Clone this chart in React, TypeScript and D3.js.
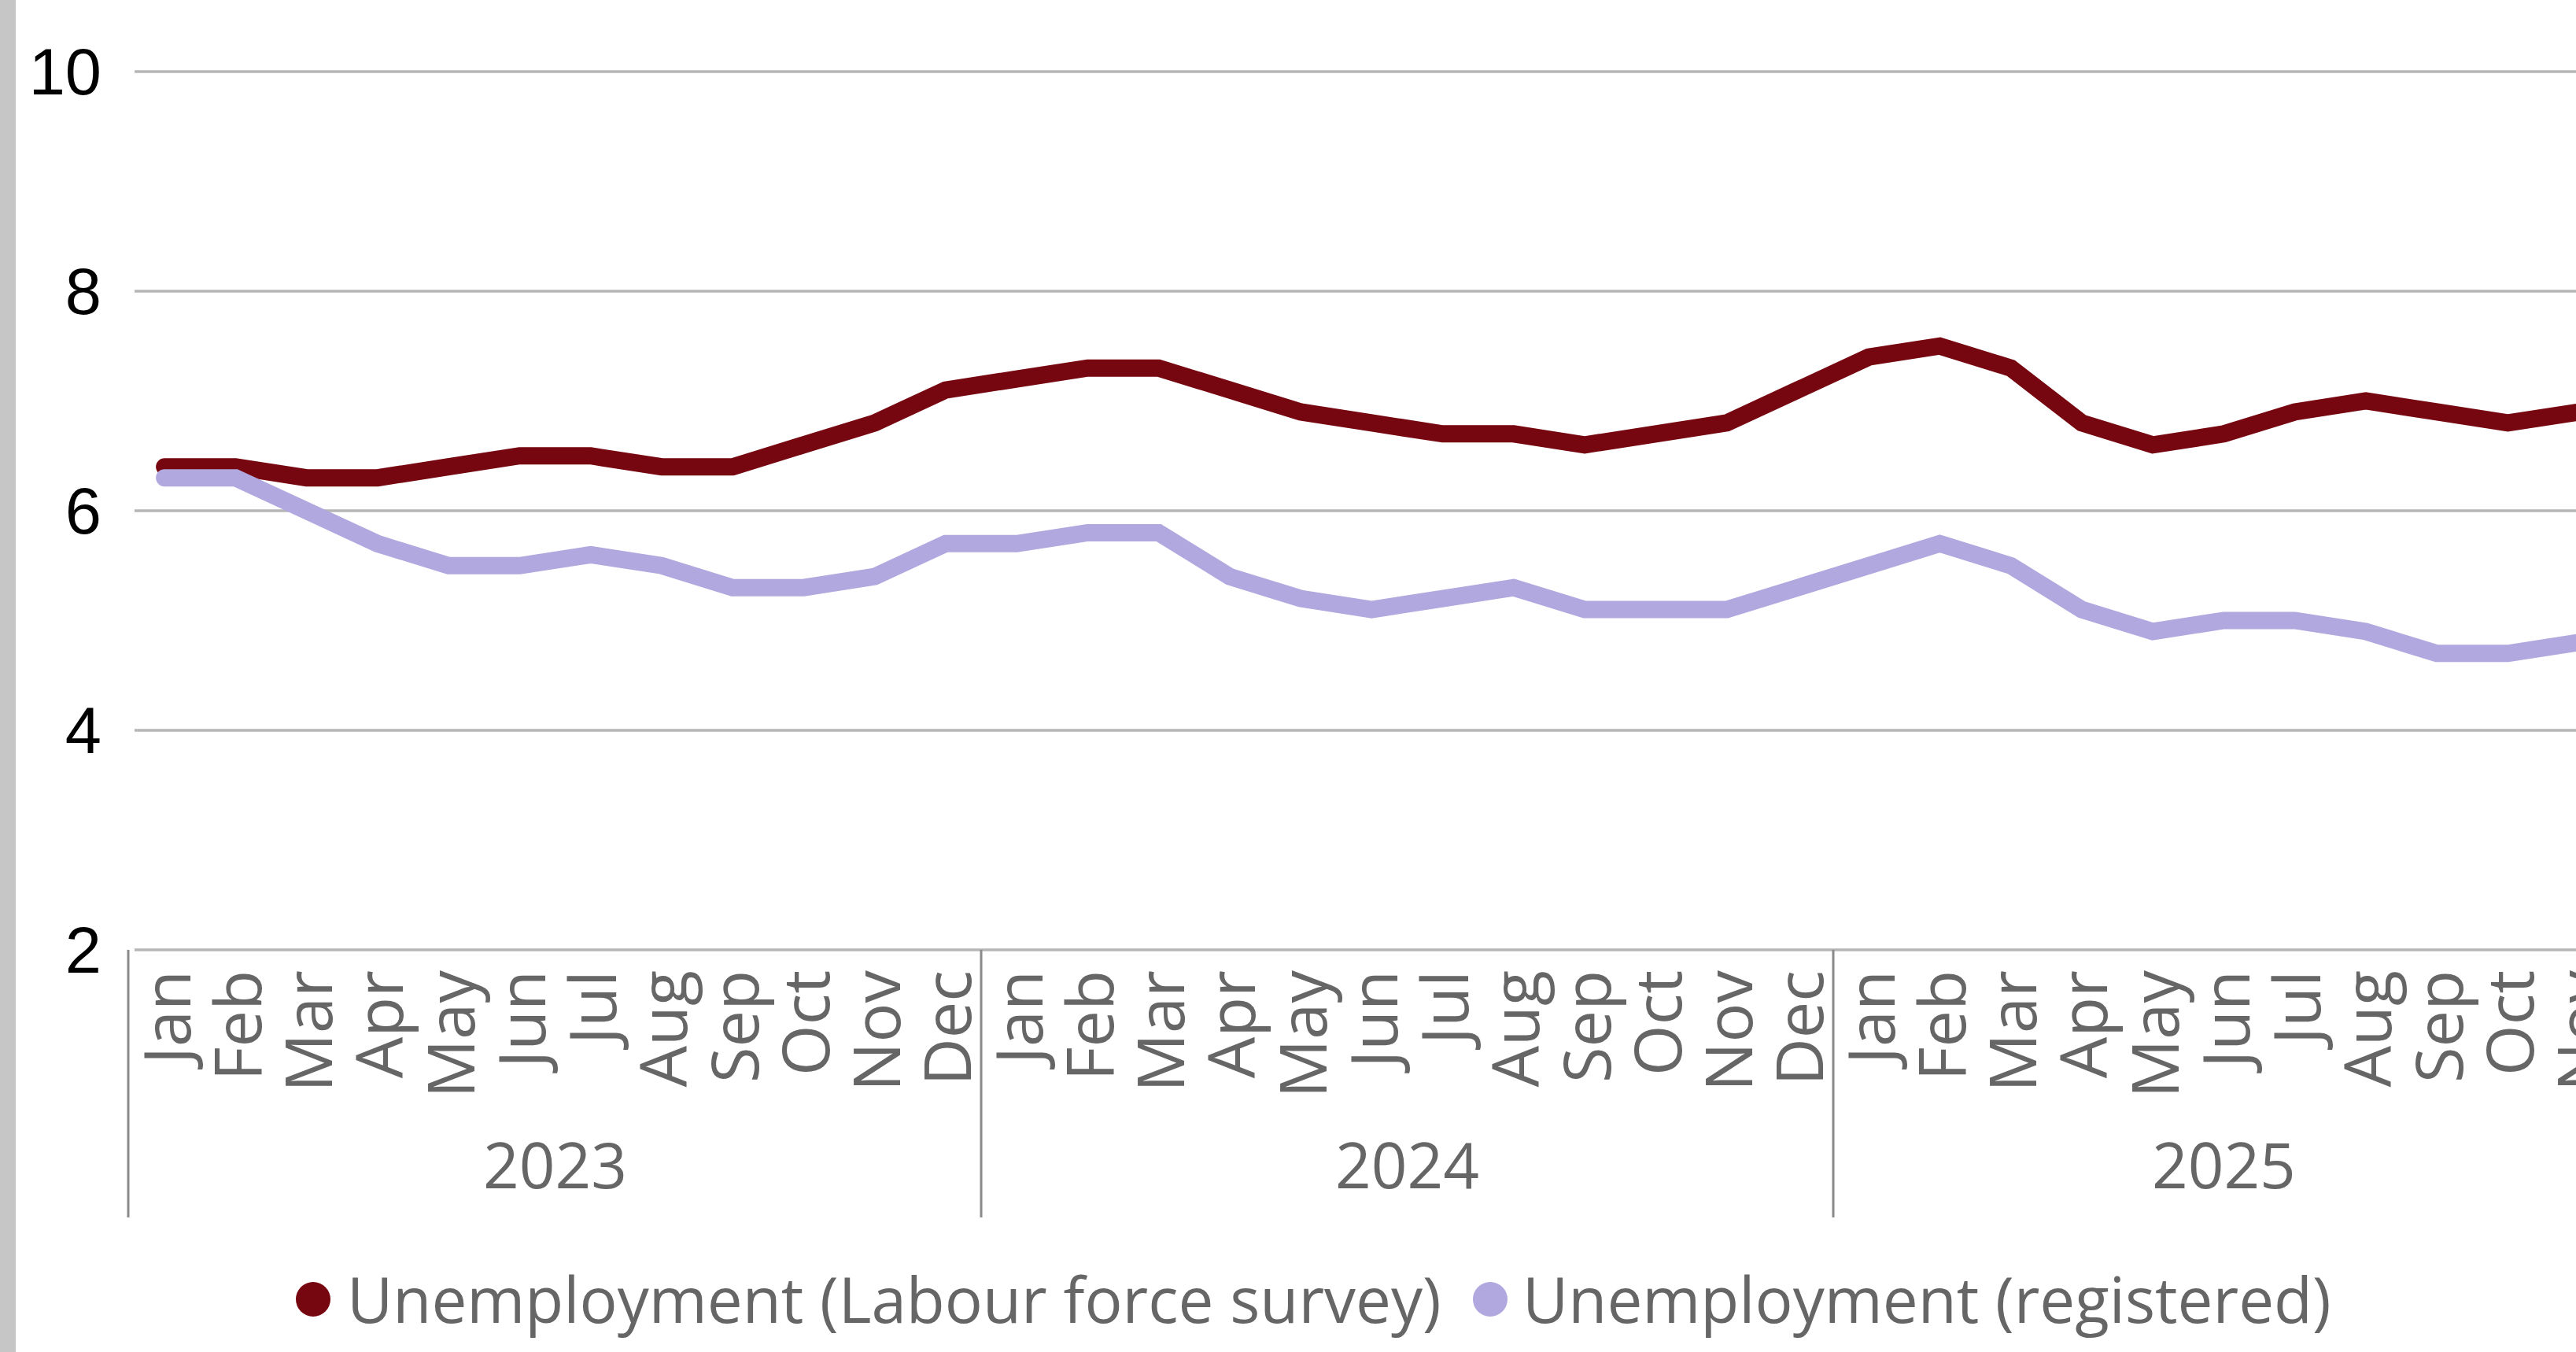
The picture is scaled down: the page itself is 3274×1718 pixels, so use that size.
import React from "react";
import * as d3 from "d3";

const monthNames = ["Jan", "Feb", "Mar", "Apr", "May", "Jun", "Jul", "Aug", "Sep", "Oct", "Nov", "Dec"];
const yearLabels = ["2023", "2024", "2025"];
const monthsPerYear = [12, 12, 11];

const lfsSeries = [
  6.4, 6.4, 6.3, 6.3, 6.4, 6.5, 6.5, 6.4, 6.4, 6.6, 6.8, 7.1,
  7.2, 7.3, 7.3, 7.1, 6.9, 6.8, 6.7, 6.7, 6.6, 6.7, 6.8, 7.1,
  7.4, 7.5, 7.3, 6.8, 6.6, 6.7, 6.9, 7.0, 6.9, 6.8, 6.9,
];
const registeredSeries = [
  6.3, 6.3, 6.0, 5.7, 5.5, 5.5, 5.6, 5.5, 5.3, 5.3, 5.4, 5.7,
  5.7, 5.8, 5.8, 5.4, 5.2, 5.1, 5.2, 5.3, 5.1, 5.1, 5.1, 5.3,
  5.5, 5.7, 5.5, 5.1, 4.9, 5.0, 5.0, 4.9, 4.7, 4.7, 4.8,
];
const yTicks = [2, 4, 6, 8, 10];
const seriesNames = ["Unemployment (Labour force survey)", "Unemployment (registered)"];
const seriesColors = ["#76060F", "#B0A8DF"];

const W = 3274;
const H = 1718;

type Cat = { key: string; month: string; year: string; yi: number };
const categories: Cat[] = [];
yearLabels.forEach((yr, yi) => {
  for (let m = 0; m < monthsPerYear[yi]; m++) {
    categories.push({ key: `${yr}-${m}`, month: monthNames[m], year: yr, yi });
  }
});

export default function App() {
  const plotLeft = 164;
  const step = 90.25;
  const x = d3
    .scaleBand<string>()
    .domain(categories.map((c) => c.key))
    .range([plotLeft, plotLeft + categories.length * step])
    .paddingInner(0)
    .paddingOuter(0);
  const y = d3.scaleLinear().domain([2, 10]).range([1207, 91]);
  const bw = x.bandwidth();
  const cx = (k: string) => (x(k) as number) + bw / 2;

  const line = d3
    .line<number>()
    .x((_, i) => cx(categories[i].key))
    .y((v) => y(v));

  const groups = yearLabels.map((yr, yi) => {
    const cats = categories.filter((c) => c.yi === yi);
    const start = x(cats[0].key) as number;
    const end = (x(cats[cats.length - 1].key) as number) + bw;
    return { yr, start, end };
  });
  const boundaries = [groups[0].start - 1, ...groups.map((g) => g.end)];

  const sans = "'Open Sans', 'Noto Sans', sans-serif";

  return (
    <svg
      width={W}
      height={H}
      viewBox={`0 0 ${W} ${H}`}
      style={{ position: "absolute", left: 0, top: 0, background: "#fff" }}
    >
      <rect x={0} y={0} width={W} height={H} fill="#ffffff" />
      <rect x={0} y={0} width={20} height={H} fill="#c6c6c6" />

      {yTicks.map((t) => (
        <line
          key={t}
          x1={171}
          x2={W}
          y1={y(t)}
          y2={y(t)}
          stroke="#b6b6b6"
          strokeWidth={3.5}
        />
      ))}

      {yTicks.map((t) => (
        <text
          key={`yl${t}`}
          x={129}
          y={y(t)}
          textAnchor="end"
          dominantBaseline="central"
          fontFamily="'Liberation Sans', Arial, sans-serif"
          fontSize={83}
          fill="#000"
        >
          {t}
        </text>
      ))}

      {boundaries.map((b, i) => (
        <line
          key={`b${i}`}
          x1={b}
          x2={b}
          y1={y(2)}
          y2={1547}
          stroke="#8a8a8a"
          strokeWidth={3}
        />
      ))}

      {categories.map((c) => (
        <text
          key={`m${c.key}`}
          transform={`translate(${cx(c.key)},1233) rotate(-90)`}
          textAnchor="end"
          dominantBaseline="central"
          fontFamily={sans}
          fontSize={83}
          fill="#666666"
        >
          {c.month}
        </text>
      ))}

      {groups.map((g) => (
        <text
          key={`y${g.yr}`}
          x={(g.start + g.end) / 2}
          y={1510}
          textAnchor="middle"
          fontFamily={sans}
          fontSize={80}
          fill="#666666"
        >
          {g.yr}
        </text>
      ))}

      <path
        d={line(lfsSeries) || ""}
        fill="none"
        stroke={seriesColors[0]}
        strokeWidth={22}
        strokeLinecap="round"
        strokeLinejoin="miter"
      />
      <path
        d={line(registeredSeries) || ""}
        fill="none"
        stroke={seriesColors[1]}
        strokeWidth={22}
        strokeLinecap="round"
        strokeLinejoin="miter"
      />

      <circle cx={398} cy={1651} r={22} fill={seriesColors[0]} />
      <text x={441} y={1681} fontFamily={sans} fontSize={80} fill="#666666">
        {seriesNames[0]}
      </text>
      <circle cx={1894} cy={1651} r={22} fill={seriesColors[1]} />
      <text x={1935} y={1681} fontFamily={sans} fontSize={80} fill="#666666">
        {seriesNames[1]}
      </text>
    </svg>
  );
}
